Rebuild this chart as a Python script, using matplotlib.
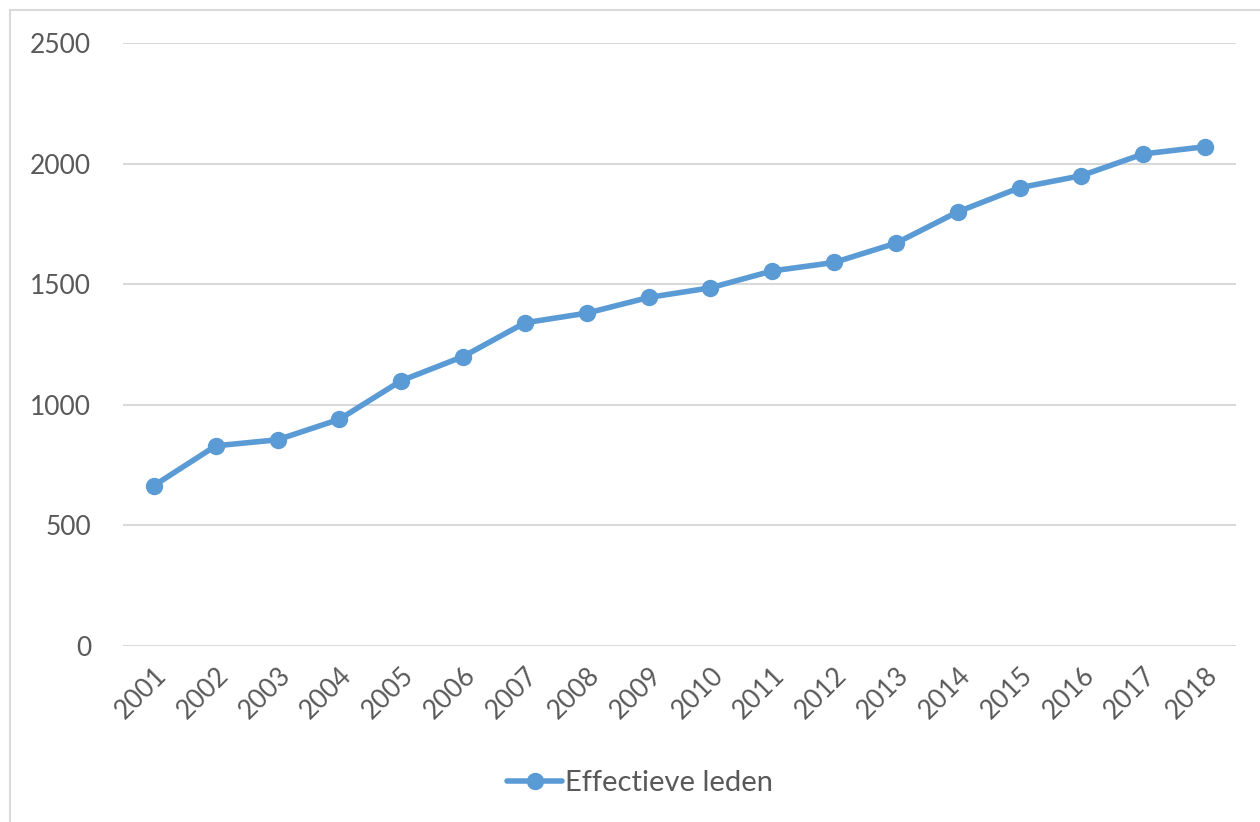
import matplotlib.pyplot as plt
from matplotlib.patches import Rectangle

# --- Dati ---
anni = ['2001', '2002', '2003', '2004', '2005', '2006', '2007', '2008', '2009',
        '2010', '2011', '2012', '2013', '2014', '2015', '2016', '2017', '2018']
leden = [665, 830, 855, 940, 1100, 1200, 1340, 1380, 1445,
         1485, 1555, 1590, 1670, 1800, 1900, 1950, 2040, 2070]
y_ticks = [0, 500, 1000, 1500, 2000, 2500]

blauw = '#5B9BD5'
grijs = '#595959'

plt.rcParams['font.family'] = ['Lato', 'DejaVu Sans']

fig = plt.figure(figsize=(12.6, 8.22), dpi=100)
ax = fig.add_axes([123 / 1260, 1 - 646 / 822, (1236 - 123) / 1260, (646 - 43) / 822])

# bordo grafico
fig.patches.append(Rectangle((10 / 1260, -0.1), 1.2, 1 - 10 / 822 + 0.1,
                             transform=fig.transFigure, fill=False,
                             edgecolor='#D9D9D9', linewidth=1.5))

x = range(len(anni))
ax.plot(x, leden, color=blauw, linewidth=4, marker='o', markersize=11.5,
        label='Effectieve leden', solid_capstyle='round')

ax.set_xlim(-0.5, len(anni) - 0.5)
ax.set_ylim(0, 2500)
ax.set_yticks(y_ticks)
ax.set_xticks(list(x))
ax.set_xticklabels(anni, rotation=45, ha='right', rotation_mode='anchor')
ax.tick_params(axis='both', length=0, labelsize=19, labelcolor=grijs)
ax.tick_params(axis='y', pad=23)
ax.tick_params(axis='x', pad=12)
ax.grid(axis='y', color='#D9D9D9', linewidth=1.5)
ax.set_axisbelow(True)
for s in ax.spines.values():
    s.set_visible(False)

leg = fig.legend(loc='center', bbox_to_anchor=(640 / 1260, 1 - 783 / 822),
                 frameon=False, fontsize=21, handlelength=1.9, handletextpad=0.1)
for t in leg.get_texts():
    t.set_color(grijs)

fig.savefig('out.png', dpi=100)
